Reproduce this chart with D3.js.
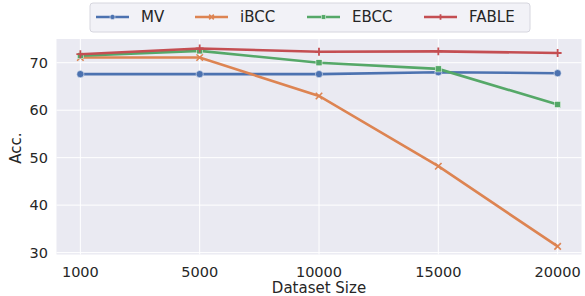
<!DOCTYPE html>
<html><head><meta charset="utf-8">
<script src="https://cdn.jsdelivr.net/npm/d3@7"></script>
<style>body{margin:0;background:#fff}svg{display:block;font-family:"DejaVu Sans",sans-serif}</style>
</head><body>
<svg id="c" width="585" height="296"></svg>
<script>
const categories = ["1000","5000","10000","15000","20000"];
const seriesNames = ["MV","iBCC","EBCC","FABLE"];
const mvValues = [67.6, 67.6, 67.6, 68.0, 67.8];
const ibccValues = [71.1, 71.1, 63.0, 48.2, 31.3];
const ebccValues = [71.5, 72.5, 70.0, 68.7, 61.2];
const fableValues = [71.8, 73.0, 72.3, 72.4, 72.05];
const yTicks = [30,40,50,60,70];
const colors = ["#4c72b0","#dd8452","#55a868","#c44e52"];
const markers = ["circle","x","square","plus"];
const series = [mvValues, ibccValues, ebccValues, fableValues];

const svg = d3.select("#c");
const L=56.5, R=581.5, T=39, B=254.5;
// categorical x positions with matplotlib-style 5% margins
const x = d3.scalePoint().domain(categories).range([L,R]).padding(0.2);
const xp = c => x(c);
const y = d3.scaleLinear().domain([29.6,75.0]).range([B,T]);

svg.append("rect").attr("x",L).attr("y",T).attr("width",R-L).attr("height",B-T).attr("fill","#eaeaf2");
const g = svg.append("g");
g.selectAll(".gy").data(yTicks).join("line").attr("x1",L).attr("x2",R)
 .attr("y1",d=>y(d)).attr("y2",d=>y(d)).attr("stroke","#fff").attr("stroke-width",1);
g.selectAll(".gx").data(categories).join("line").attr("y1",T).attr("y2",B)
 .attr("x1",d=>xp(d)).attr("x2",d=>xp(d)).attr("stroke","#fff").attr("stroke-width",1);

svg.selectAll(".yt").data(yTicks).join("text").attr("x",48).attr("y",d=>y(d)).attr("dy","0.35em")
 .attr("text-anchor","end").attr("font-size",14.5).attr("fill","#262626").text(d=>d);
svg.selectAll(".xt").data(categories).join("text").attr("x",d=>xp(d)).attr("y",271.5).attr("dy","0.35em")
 .attr("text-anchor","middle").attr("font-size",14.5).attr("fill","#262626").text(d=>d);
svg.append("text").attr("x",L+(R-L)/2).attr("y",287.3).attr("dy","0.35em").attr("text-anchor","middle")
 .attr("font-size",15).attr("fill","#262626").text("Dataset Size");
svg.append("text").attr("transform","translate(16,148) rotate(-90)").attr("dy","0.35em").attr("text-anchor","middle")
 .attr("font-size",15).attr("fill","#262626").text("Acc.");

function drawMarker(sel, type, cx, cy, color, s){
  if(type==="circle") sel.append("circle").attr("cx",cx).attr("cy",cy).attr("r",s).attr("fill",color).attr("stroke","#fff").attr("stroke-width",0.5);
  else if(type==="square") sel.append("rect").attr("x",cx-s*0.85).attr("y",cy-s*0.85).attr("width",s*1.7).attr("height",s*1.7).attr("fill",color).attr("stroke","#fff").attr("stroke-width",0.5);
  else if(type==="x") sel.append("path").attr("d",`M${cx-s*0.9},${cy-s*0.9}L${cx+s*0.9},${cy+s*0.9}M${cx-s*0.9},${cy+s*0.9}L${cx+s*0.9},${cy-s*0.9}`).attr("stroke",color).attr("stroke-width",1.6);
  else sel.append("path").attr("d",`M${cx-s*1.1},${cy}L${cx+s*1.1},${cy}M${cx},${cy-s*1.1}L${cx},${cy+s*1.1}`).attr("stroke",color).attr("stroke-width",1.8);
}
const line = d3.line().x((d,i)=>xp(categories[i])).y(d=>y(d));
series.forEach((vals,si)=>{
  svg.append("path").datum(vals).attr("d",line).attr("fill","none").attr("stroke",colors[si]).attr("stroke-width",2.6);
  const mg = svg.append("g");
  vals.forEach((v,i)=>drawMarker(mg, markers[si], xp(categories[i]), y(v), colors[si], 3.6));
});

// legend
const lg = svg.append("g");
lg.append("rect").attr("x",90).attr("y",3).attr("width",440).attr("height",29).attr("rx",3)
 .attr("fill","#eaeaf2").attr("fill-opacity",0.6).attr("stroke","#d6d6de").attr("stroke-width",1);
const lx = [96,195,307,424];
seriesNames.forEach((n,i)=>{
  lg.append("line").attr("x1",lx[i]).attr("x2",lx[i]+33).attr("y1",17).attr("y2",17).attr("stroke",colors[i]).attr("stroke-width",2.6);
  drawMarker(lg, markers[i], lx[i]+16.5, 17, colors[i], 2.6);
  lg.append("text").attr("x",lx[i]+45).attr("y",17).attr("dy","0.35em").attr("font-size",15).attr("fill","#262626").text(n);
});
</script>
</body></html>
